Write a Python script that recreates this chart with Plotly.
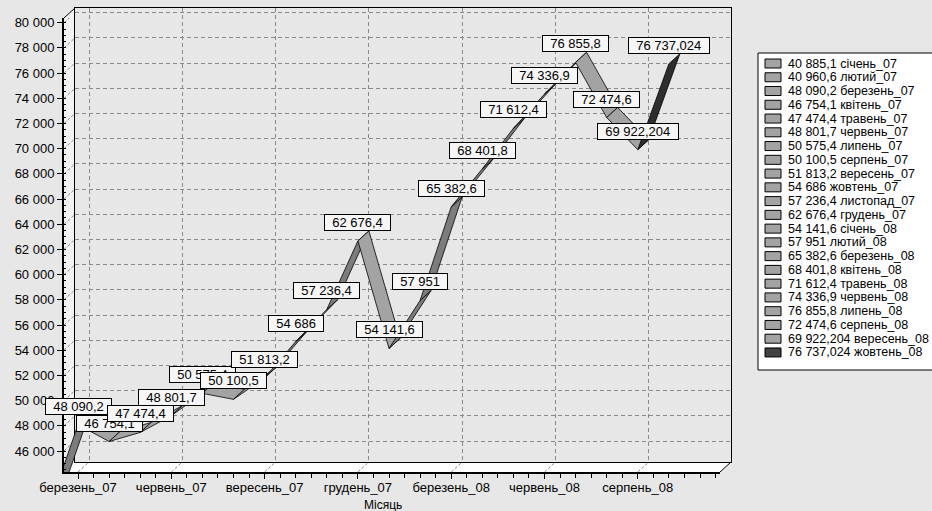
import plotly.graph_objects as go

# ---- data -------------------------------------------------------------
months = ["січень_07", "лютий_07", "березень_07", "квітень_07", "травень_07",
          "червень_07", "липень_07", "серпень_07", "вересень_07", "жовтень_07",
          "листопад_07", "грудень_07", "січень_08", "лютий_08", "березень_08",
          "квітень_08", "травень_08", "червень_08", "липень_08", "серпень_08",
          "вересень_08", "жовтень_08"]
values = [40885.1, 40960.6, 48090.2, 46754.1, 47474.4, 48801.7, 50575.4,
          50100.5, 51813.2, 54686, 57236.4, 62676.4, 54141.6, 57951,
          65382.6, 68401.8, 71612.4, 74336.9, 76855.8, 72474.6,
          69922.204, 76737.024]
x_tick_pos = [2, 5, 8, 11, 14, 17, 20]
x_tick_labels = ["березень_07", "червень_07", "вересень_07", "грудень_07",
                 "березень_08", "червень_08", "серпень_08"]
y_tick_vals = list(range(46000, 80001, 2000))
x_title = "Місяць"

# ---- styling / geometry -----------------------------------------------
W, H = 932, 511
FONT = "Liberation Sans, Arial, sans-serif"
BG = "#e7e7e7"
point_colors = ["#a3a3a3"] * (len(values) - 1) + ["#404040"]
under_colors = ["#7c7c7c"] * (len(values) - 1) + ["#2e2e2e"]

# front frame of the 3-D box (pixels) and depth offset of the back wall
FX0, FX1, FY0, FY1 = 64, 720, 18, 472
DX, DY = 11, 10
X_LEFT, X_RIGHT = 1.55, 22.643
Y_BOT, Y_TOP = 44333, 80373

px_per_cat = (FX1 - FX0) / (X_RIGHT - X_LEFT)
px_per_val = (FY1 - FY0) / (Y_TOP - Y_BOT)
dxc = DX / px_per_cat          # depth offset in category units
dyv = DY / px_per_val          # depth offset in value units


def pxx(x):
    return x / W


def pxy(y):
    return 1 - y / H


def fmt(v):
    s = repr(v) if isinstance(v, float) else str(v)
    ip, _, dp = s.partition(".")
    ip = f"{int(ip):,}".replace(",", " ")
    return ip + ("," + dp if dp else "")


fig = go.Figure()

# back wall subplot (grid only)
fig.add_trace(go.Scatter(x=[X_LEFT], y=[Y_BOT], mode="markers",
                         marker=dict(opacity=0), hoverinfo="skip",
                         showlegend=False, xaxis="x", yaxis="y"))

# ribbon: one parallelogram per segment, front edge + depth offset
n = len(values)
for i in range(n - 1):
    v0, v1 = values[i], values[i + 1]
    rise_px = (v1 - v0) * px_per_val
    underside = (-px_per_cat * DY + rise_px * DX) > 0
    col = under_colors[i + 1] if underside else point_colors[i + 1]
    fig.add_trace(go.Scatter(
        x=[i, i + 1, i + 1 + dxc, i + dxc, i],
        y=[v0, v1, v1 + dyv, v0 + dyv, v0],
        mode="lines", fill="toself", fillcolor=col,
        line=dict(color="black", width=0.8),
        hoverinfo="skip", showlegend=False, xaxis="x2", yaxis="y2"))

annotations = []
# data labels sitting on the back edge of the ribbon
for i, v in enumerate(values):
    if i < X_LEFT:
        continue
    annotations.append(dict(
        x=i, y=v + dyv, xref="x2", yref="y2", xanchor="center",
        yanchor="bottom", showarrow=False,
        text="\u00a0\u00a0" + fmt(v) + "\u00a0\u00a0",
        font=dict(family=FONT, size=13, color="black"),
        bgcolor="#f6f6f6", bordercolor="black", borderwidth=1, borderpad=0))

annotations.append(dict(x=pxx(383), y=pxy(505), xref="paper", yref="paper",
                        text=x_title, showarrow=False, xanchor="center",
                        yanchor="middle",
                        font=dict(family=FONT, size=12, color="black")))

shapes = []
# side wall and floor
shapes.append(dict(type="path", xref="paper", yref="paper", layer="below",
                   path=f"M{pxx(FX0)},{pxy(FY0)} L{pxx(FX0+DX)},{pxy(FY0-DY)} "
                        f"L{pxx(FX0+DX)},{pxy(FY1-DY)} L{pxx(FX0)},{pxy(FY1)} Z",
                   fillcolor="#f3f3f3", line=dict(width=0)))
shapes.append(dict(type="path", xref="paper", yref="paper", layer="below",
                   path=f"M{pxx(FX0)},{pxy(FY1)} L{pxx(FX1)},{pxy(FY1)} "
                        f"L{pxx(FX1+DX)},{pxy(FY1-DY)} L{pxx(FX0+DX)},{pxy(FY1-DY)} Z",
                   fillcolor="#ffffff", line=dict(width=0)))
# box edges
for (x0, y0, x1, y1) in [(FX0, FY0, FX0 + DX, FY0 - DY),
                         (FX1, FY1, FX1 + DX, FY1 - DY)]:
    shapes.append(dict(type="line", xref="paper", yref="paper",
                       x0=pxx(x0), y0=pxy(y0), x1=pxx(x1), y1=pxy(y1),
                       line=dict(color="black", width=1)))
# receding grid lines on floor and side wall
for t in x_tick_pos:
    shapes.append(dict(type="line", xref="x2", yref="y2", layer="below",
                       x0=t, y0=Y_BOT, x1=t + dxc, y1=Y_BOT + dyv,
                       line=dict(color="#8a8a8a", width=1, dash="3px,2px")))
for yv in y_tick_vals:
    shapes.append(dict(type="line", xref="x2", yref="y2", layer="below",
                       x0=X_LEFT, y0=yv, x1=X_LEFT + dxc, y1=yv + dyv,
                       line=dict(color="#8a8a8a", width=1, dash="3px,2px")))

# legend drawn as a list of boxes + text
LG_X0, LG_Y0, LG_Y1 = 758, 53, 370
row0, row_step = 63.5, 13.76
shapes.append(dict(type="rect", xref="paper", yref="paper",
                   x0=pxx(LG_X0), x1=pxx(LG_X0 + 200), y0=pxy(LG_Y1), y1=pxy(LG_Y0),
                   fillcolor="white", line=dict(color="black", width=1)))
for k, (m, v) in enumerate(zip(months, values)):
    yc = row0 + k * row_step
    shapes.append(dict(type="rect", xref="paper", yref="paper",
                       x0=pxx(765), x1=pxx(781), y0=pxy(yc + 4.5), y1=pxy(yc - 4.5),
                       fillcolor=point_colors[k], line=dict(color="black", width=1)))
    annotations.append(dict(x=pxx(786), y=pxy(yc), xref="paper", yref="paper",
                            xanchor="left", yanchor="middle", showarrow=False,
                            text=f"{fmt(v)} {m}",
                            font=dict(family=FONT, size=12.5, color="black")))

axis_common = dict(zeroline=False, fixedrange=True, automargin=False)
fig.update_layout(
    width=W, height=H, autosize=False,
    margin=dict(l=0, r=0, t=0, b=0, autoexpand=False),
    paper_bgcolor=BG, plot_bgcolor="rgba(0,0,0,0)",
    separators=", ",
    showlegend=False,
    xaxis=dict(domain=[pxx(FX0 + DX), pxx(FX1 + DX)], range=[X_LEFT, X_RIGHT],
               anchor="y", tickmode="array", tickvals=x_tick_pos,
               showticklabels=False, ticks="", showgrid=True,
               gridcolor="#8a8a8a", griddash="4px,3px", gridwidth=1,
               showline=True, mirror=True, linecolor="black", linewidth=1,
               **axis_common),
    yaxis=dict(domain=[pxy(FY1 - DY), pxy(FY0 - DY)], range=[Y_BOT, Y_TOP],
               anchor="x", tickmode="array", tickvals=y_tick_vals,
               showticklabels=False, ticks="", showgrid=True,
               gridcolor="#8a8a8a", griddash="4px,3px", gridwidth=1,
               showline=True, mirror=True, linecolor="black", linewidth=1,
               **axis_common),
    xaxis2=dict(domain=[pxx(FX0), pxx(FX1)], range=[X_LEFT, X_RIGHT],
                anchor="y2", tickmode="array", tickvals=x_tick_pos,
                ticktext=x_tick_labels, ticks="outside", ticklen=5,
                ticklabelstandoff=-3,
                tickcolor="black", showgrid=False, showline=True,
                linecolor="black", linewidth=2,
                minor=dict(tickmode="linear", tick0=0, dtick=0.5,
                           ticks="outside", ticklen=4, tickcolor="black"),
                tickfont=dict(family=FONT, size=13, color="black"),
                **axis_common),
    yaxis2=dict(domain=[pxy(FY1), pxy(FY0)], range=[Y_BOT, Y_TOP],
                anchor="x2", tickmode="array", tickvals=y_tick_vals,
                tickformat=",d", ticks="outside", ticklen=5,
                tickcolor="black", showgrid=False, showline=True,
                linecolor="black", linewidth=2,
                minor=dict(tickmode="linear", tick0=0, dtick=500,
                           ticks="inside", ticklen=2, tickcolor="black"),
                tickfont=dict(family=FONT, size=13, color="black"),
                **axis_common),
    shapes=shapes,
    annotations=annotations,
)

fig.write_html("out.html")
